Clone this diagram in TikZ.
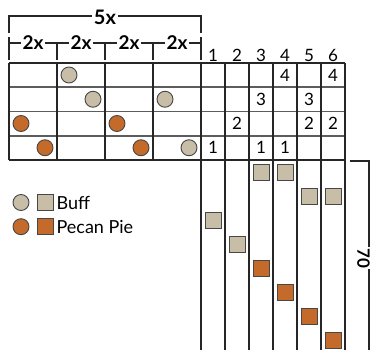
\documentclass[tikz,border=0pt]{standalone}
\usepackage{fontspec}
\setmainfont{Lato}
\usetikzlibrary{positioning}
\definecolor{buffcol}{HTML}{C8BDA6}
\definecolor{pecancol}{HTML}{C46A2B}
\definecolor{rulecol}{HTML}{262626}
\definecolor{hrulecol}{HTML}{5C5C5C}

\begin{document}
\begin{tikzpicture}[x=1pt, y=-1pt,
  heavy/.style={line width=2.8pt, draw=rulecol},
  vrule/.style={line width=1.2pt, draw=rulecol},
  hrule/.style={line width=1.6pt, draw=hrulecol},
  bead/.style={circle, draw=rulecol!85, line width=0.9pt, minimum size=16pt, inner sep=0pt},
  cube/.style={rectangle, draw=rulecol!85, line width=0.9pt, minimum size=16pt, inner sep=0pt},
  num/.style={font=\fontsize{17}{17}\selectfont, inner sep=0pt},
  brk/.style={line width=1.1pt, draw=rulecol},
  brklbl/.style={fill=white, inner sep=2pt, font=\bfseries\fontsize{19}{19}\selectfont},
  legtext/.style={font=\fontsize{18}{18}\selectfont, inner sep=0pt, anchor=west},
]
\useasboundingbox (0,0) rectangle (372,350);

% =================== brackets ===================
\draw[brk] (9,33) -- (9,16) -- (201,16) -- (201,33);
\node[brklbl, font=\bfseries\fontsize{20}{20}\selectfont] (fivex) at (105,17) {5x};
\draw[brk] (9,37) -- (9,60);
\draw[brk] (201,37) -- (201,60);
\foreach \i in {0,...,3} {
  \draw[brk] (9+48*\i,43) -- (57+48*\i,43);
  \draw[brk] (57+48*\i,43) -- (57+48*\i,60);
  \node[brklbl] (twox\i) at (33+48*\i,43) {2x};
}
\draw[brk] (350,161) -- (369,161) -- (369,350);
\node[brklbl, rotate=-90, inner sep=1pt, font=\bfseries\fontsize{17}{17}\selectfont] (seventy) at (363.5,258) {70};

% =================== grid lines ===================
\foreach \k in {1,2,3}
  \draw[hrule] (9,63+24.25*\k) -- (345,63+24.25*\k);
\foreach \i in {1,2,3}
  \draw[vrule] (9+48*\i,63) -- (9+48*\i,160);
\foreach \j in {1,...,5}
  \draw[vrule] (201+24*\j,63) -- (201+24*\j,350);
\draw[heavy] (9,63) -- (345,63);
\draw[heavy] (9,160) -- (345,160);
\draw[heavy] (9,63) -- (9,160);
\draw[heavy] (201,63) -- (201,350);
\draw[heavy] (345,63) -- (345,350);

% =================== pattern beads ===================
\foreach \h/\r/\c in {2/0/buffcol, 3/1/buffcol, 6/1/buffcol,
                      0/2/pecancol, 4/2/pecancol,
                      1/3/pecancol, 5/3/pecancol, 7/3/buffcol}
  \node[bead, fill=\c] (b\h\r) at (21+24*\h,75+24.25*\r) {};

% =================== counts ===================
\foreach \j in {1,...,6}
  \node[num] (col\j) at (189+24*\j,55) {\j};
\foreach \j/\r/\n in {4/0/4, 6/0/4, 3/1/3, 5/1/3,
                      2/2/2, 5/2/2, 6/2/2, 1/3/1, 3/3/1, 4/3/1}
  \node[num] (n\j\r) at (189+24*\j,75+24.25*\r) {\n};

% =================== threading squares ===================
\foreach \j/\k/\c in {3/0/buffcol, 4/0/buffcol, 5/1/buffcol, 6/1/buffcol,
                      1/2/buffcol, 2/3/buffcol, 3/4/pecancol, 4/5/pecancol,
                      5/6/pecancol, 6/7/pecancol}
  \node[cube, fill=\c] (s\j\k) at (189+24*\j,172.7+24*\k) {};

% =================== legend ===================
\node[bead, fill=buffcol] (lbuffb) at (21,202.5) {};
\node[cube, fill=buffcol, right=8pt of lbuffb] (lbuffs) {};
\node[legtext, right=2pt of lbuffs] (lbufft) {Buff};
\node[bead, fill=pecancol] (lpecanb) at (21,226.7) {};
\node[cube, fill=pecancol, right=8pt of lpecanb] (lpecans) {};
\node[legtext, right=2pt of lpecans] (lpecant) {Pecan Pie};

\end{tikzpicture}
\end{document}
